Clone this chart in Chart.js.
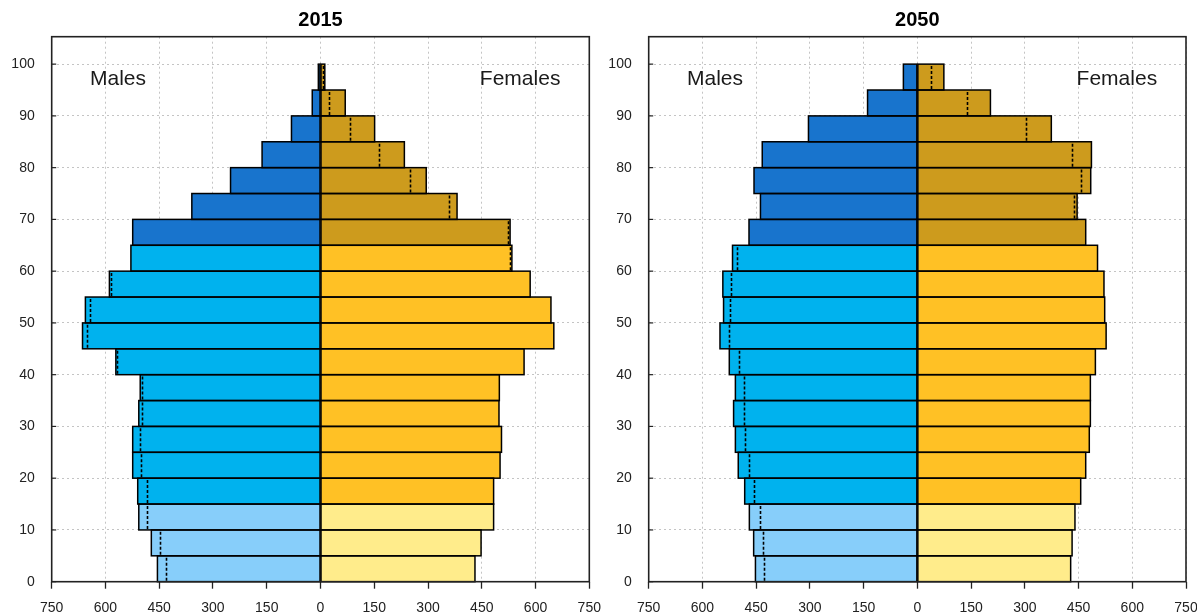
<!DOCTYPE html>
<html>
<head>
<meta charset="utf-8">
<script src="https://cdn.jsdelivr.net/npm/chart.js@4.4.1/dist/chart.umd.min.js"></script>
<style>
  html, body { margin: 0; padding: 0; background: #ffffff; }
  #wrap { position: relative; width: 1197px; height: 616px; overflow: hidden; }
  .panel { position: absolute; top: 0; height: 616px; }
  canvas { display: block; }
</style>
</head>
<body>
<div id="wrap">
  <div class="panel" style="left:0px;width:608px"><canvas id="c2015" width="608" height="616"></canvas></div>
  <div class="panel" style="left:598px;width:599px"><canvas id="c2050" width="599" height="616"></canvas></div>
</div>
<script>
// Five-year age groups (lower bound of each band), population in thousands
const ageStarts = [0, 5, 10, 15, 20, 25, 30, 35, 40, 45, 50, 55, 60, 65, 70, 75, 80, 85, 90, 95];
const ageTicks = [0, 10, 20, 30, 40, 50, 60, 70, 80, 90, 100];
const popTicks = [-750, -600, -450, -300, -150, 0, 150, 300, 450, 600, 750];

const males2015   = [455, 472, 507, 510, 524, 524, 507, 503, 571, 664, 656, 589, 529, 524, 359, 251, 163, 81, 23, 6];
const females2015 = [431, 448, 483, 483, 501, 505, 498, 499, 568, 651, 643, 585, 534, 529, 381, 295, 234, 151, 69, 12];

const males2050   = [452, 457, 469, 482, 500, 508, 513, 508, 525, 551, 541, 543, 516, 470, 438, 456, 433, 304, 139, 39];
const females2050 = [428, 432, 440, 456, 470, 480, 483, 483, 497, 527, 523, 521, 503, 470, 446, 484, 486, 374, 204, 74];

const sexLabels = ['Males', 'Females'];

// Colours for young (0-14), working age (15-64) and old (65+)
const maleColors   = ['#87CEFA', '#00B2EE', '#1874CD'];
const femaleColors = ['#FFEC8B', '#FFC125', '#CD9B1D'];

const FONT = '"Liberation Sans", Arial, Helvetica, sans-serif';
const BAND = 5;

function groupIndex(age) {
  if (age < 15) return 0;
  if (age < 65) return 1;
  return 2;
}

// Bar outlines (centred on the edges so neighbours share one line) and a
// dotted marker inside the wider bar at the value of the opposite sex
const outlinePlugin = {
  id: 'outline',
  afterDatasetsDraw(chart, args, opts) {
    const { ctx, scales } = chart;
    ctx.save();
    ctx.strokeStyle = '#000';
    ctx.lineWidth = 1.5;
    ctx.setLineDash([]);
    chart.data.datasets.forEach((ds, di) => {
      chart.getDatasetMeta(di).data.forEach(bar => {
        const p = bar.getProps(['x', 'y', 'base', 'height'], true);
        const left = Math.min(p.x, p.base);
        const w = Math.abs(p.x - p.base);
        ctx.strokeRect(left, p.y - p.height / 2, w, p.height);
      });
    });

    const m = opts.males, f = opts.females;
    ctx.lineWidth = 1.6;
    ctx.setLineDash([3, 2]);
    ageStarts.forEach((age, i) => {
      if (m[i] === f[i]) return;
      const v = m[i] > f[i] ? -f[i] : m[i];
      const x = Math.round(scales.x.getPixelForValue(v)) + 0.5;
      const y0 = scales.y.getPixelForValue(age);
      const y1 = scales.y.getPixelForValue(age + BAND);
      ctx.beginPath();
      ctx.moveTo(x, y0 - 1);
      ctx.lineTo(x, y1 + 1);
      ctx.stroke();
    });
    ctx.restore();
  }
};

// Frame around the plot area plus short inward ticks on the age axis
const framePlugin = {
  id: 'frame',
  afterDraw(chart) {
    const { ctx, chartArea: a, scales } = chart;
    ctx.save();
    ctx.strokeStyle = '#222';
    ctx.lineWidth = 1.2;
    ctx.setLineDash([]);
    ageTicks.forEach(v => {
      const y = scales.y.getPixelForValue(v);
      ctx.beginPath();
      ctx.moveTo(a.left, y);
      ctx.lineTo(a.left + 4.5, y);
      ctx.stroke();
    });
    ctx.lineWidth = 1.6;
    ctx.strokeRect(a.left, a.top, a.right - a.left, a.bottom - a.top);
    ctx.restore();
  }
};

// "Males" / "Females" captions in the upper corners
const captionPlugin = {
  id: 'captions',
  afterDraw(chart) {
    const { ctx, scales } = chart;
    ctx.save();
    ctx.fillStyle = '#1a1a1a';
    ctx.font = '21px ' + FONT;
    ctx.textAlign = 'center';
    ctx.textBaseline = 'middle';
    const y = scales.y.getPixelForValue(97.1);
    ctx.fillText(sexLabels[0], scales.x.getPixelForValue(-565), y);
    ctx.fillText(sexLabels[1], scales.x.getPixelForValue(557), y);
    ctx.restore();
  }
};

function makePyramid(canvasId, year, males, females, axisWidth, padRight) {
  const maleData = ageStarts.map((a, i) => ({ x: -males[i], y: a + BAND / 2 }));
  const femaleData = ageStarts.map((a, i) => ({ x: females[i], y: a + BAND / 2 }));
  const barCommon = {
    grouped: false,
    borderWidth: 0,
    categoryPercentage: 1,
    barPercentage: 1,
    inflateAmount: 0
  };
  return new Chart(document.getElementById(canvasId), {
    type: 'bar',
    data: {
      datasets: [
        Object.assign({
          label: sexLabels[0],
          data: maleData,
          backgroundColor: ageStarts.map(a => maleColors[groupIndex(a)])
        }, barCommon),
        Object.assign({
          label: sexLabels[1],
          data: femaleData,
          backgroundColor: ageStarts.map(a => femaleColors[groupIndex(a)])
        }, barCommon)
      ]
    },
    options: {
      indexAxis: 'y',
      responsive: false,
      animation: false,
      devicePixelRatio: 1,
      layout: { padding: { left: 0, right: padRight, top: 0, bottom: 0 } },
      plugins: {
        legend: { display: false },
        tooltip: { enabled: false },
        title: {
          display: true,
          text: year,
          fullSize: false,
          color: '#000',
          font: { family: FONT, size: 20, weight: 'bold', lineHeight: 1.2 },
          padding: { top: 8, bottom: 4.7 }
        },
        outline: { males: males, females: females }
      },
      scales: {
        x: {
          type: 'linear',
          min: -750,
          max: 750,
          afterBuildTicks: s => { s.ticks = popTicks.map(v => ({ value: v })); },
          afterFit: s => { s.height = 34.3; s.paddingLeft = 0; s.paddingRight = 0; },
          ticks: {
            autoSkip: false,
            maxRotation: 0,
            padding: 11,
            color: '#222',
            font: { family: FONT, size: 14 },
            callback: v => String(Math.abs(v))
          },
          grid: {
            color: '#c4c4c4',
            lineWidth: 1,
            drawTicks: true,
            tickLength: 7,
            tickColor: '#222',
            tickWidth: 1.3,
            tickBorderDash: []
          },
          border: { display: false, dash: [2, 3] }
        },
        y: {
          type: 'linear',
          min: 0,
          max: 105.3,
          offset: false,
          afterBuildTicks: s => { s.ticks = ageTicks.map(v => ({ value: v })); },
          afterFit: s => { s.width = axisWidth; s.paddingTop = 0; s.paddingBottom = 0; },
          ticks: {
            padding: 17,
            color: '#222',
            font: { family: FONT, size: 14 }
          },
          grid: {
            offset: false,
            color: '#c4c4c4',
            lineWidth: 1,
            drawTicks: false
          },
          border: { display: false, dash: [2, 3] }
        }
      }
    },
    plugins: [outlinePlugin, framePlugin, captionPlugin]
  });
}

makePyramid('c2015', '2015', males2015, females2015, 51.7, 18.7);
makePyramid('c2050', '2050', males2050, females2050, 50.7, 11);
</script>
</body>
</html>
